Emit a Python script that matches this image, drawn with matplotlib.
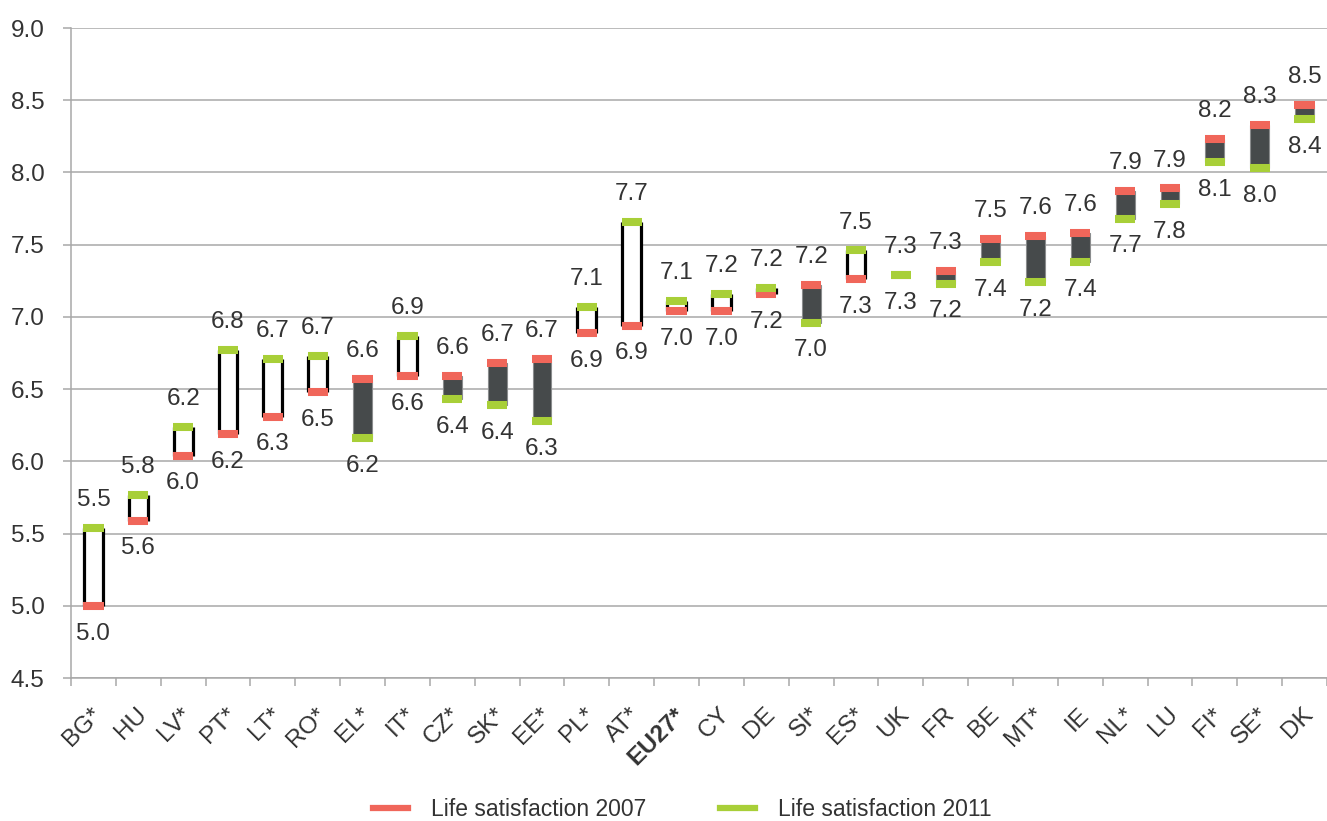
import numpy as np
import matplotlib
matplotlib.use("Agg")
import matplotlib.pyplot as plt
from matplotlib.transforms import ScaledTranslation
from matplotlib.lines import Line2D

countries = ["BG*", "HU", "LV*", "PT*", "LT*", "RO*", "EL*", "IT*", "CZ*", "SK*",
             "EE*", "PL*", "AT*", "EU27*", "CY", "DE", "SI*", "ES*", "UK", "FR",
             "BE", "MT*", "IE", "NL*", "LU", "FI*", "SE*", "DK"]
life2007 = [5.00, 5.59, 6.04, 6.19, 6.31, 6.48, 6.57, 6.59, 6.59, 6.68,
            6.71, 6.89, 6.94, 7.04, 7.04, 7.16, 7.22, 7.26, 7.29, 7.32,
            7.54, 7.56, 7.58, 7.87, 7.89, 8.23, 8.33, 8.47]
life2011 = [5.54, 5.77, 6.24, 6.77, 6.71, 6.73, 6.16, 6.87, 6.43, 6.39,
            6.28, 7.07, 7.66, 7.11, 7.16, 7.20, 6.96, 7.46, 7.29, 7.23,
            7.38, 7.24, 7.38, 7.68, 7.78, 8.07, 8.03, 8.37]
yticks = [4.5, 5.0, 5.5, 6.0, 6.5, 7.0, 7.5, 8.0, 8.5, 9.0]
legend_labels = ["Life satisfaction 2007", "Life satisfaction 2011"]

RED = "#F0665A"
GREEN = "#A8CF38"
DARK = "#464a4b"
GRID = "#a8a8a8"
TXT = "#333333"
FS = 17.5

plt.rcParams['font.family'] = ['Liberation Sans', 'DejaVu Sans']

fig = plt.figure(figsize=(13.27, 8.21), dpi=100)
ax = fig.add_axes([71/1327, 1-678/821, 1-71/1327, (678-28)/821])

n = len(countries)
x = np.arange(n)
a = np.array(life2007)
b = np.array(life2011)
low = np.minimum(a, b)
high = np.maximum(a, b)
bw = 0.42
mw = 0.45

for i in range(n):
    if b[i] > a[i]:
        ax.bar(x[i], high[i]-low[i], bottom=low[i], width=bw, color="white",
               edgecolor="none", zorder=3)
        ax.vlines([x[i]-bw/2, x[i]+bw/2], low[i], high[i], color="black",
                  lw=2.3, zorder=3.5)
    elif b[i] < a[i]:
        ax.bar(x[i], high[i]-low[i], bottom=low[i], width=bw, color=DARK,
               edgecolor="#8a8c8d", lw=0.8, zorder=3)

ax.hlines(a, x-mw/2, x+mw/2, color=RED, lw=5.8, zorder=4, capstyle='butt')
ax.hlines(b, x-mw/2, x+mw/2, color=GREEN, lw=5.8, zorder=5, capstyle='butt')

for i in range(n):
    top_v, bot_v = (b[i], a[i]) if b[i] >= a[i] else (a[i], b[i])
    ax.annotate(f"{top_v:.1f}", (x[i], top_v), xytext=(0, 20), textcoords="offset points",
                ha="center", va="center", fontsize=FS, color=TXT, zorder=6)
    ax.annotate(f"{bot_v:.1f}", (x[i], bot_v), xytext=(0, -20), textcoords="offset points",
                ha="center", va="center", fontsize=FS, color=TXT, zorder=6)

ax.set_xlim(-0.5, n-0.5)
ax.set_ylim(4.5, 9.0)
ax.set_yticks(yticks)
ax.set_yticklabels([f"{v:.1f}" for v in yticks])
ax.grid(axis="y", color=GRID, lw=1.1, zorder=0)
ax.set_axisbelow(True)
for s in ["top", "right"]:
    ax.spines[s].set_visible(False)
for s in ["left", "bottom"]:
    ax.spines[s].set_color(GRID)
    ax.spines[s].set_linewidth(1.1)
ax.tick_params(axis="y", length=6, width=1.1, color=GRID, pad=13, labelsize=FS, labelcolor=TXT)

ax.set_xticks(np.arange(n+1)-0.5)
ax.set_xticklabels([])
ax.tick_params(axis="x", which="major", length=6, width=1.1, color=GRID)
ax.set_xticks(x, minor=True)
ax.set_xticklabels(countries, minor=True, rotation=45, ha="right", va="center",
                   rotation_mode="anchor", fontsize=FS, color=TXT)
ax.tick_params(axis="x", which="minor", length=0, pad=24)
for lab in ax.get_xticklabels(minor=True):
    lab.set_transform(lab.get_transform() + ScaledTranslation(5/100, 0, fig.dpi_scale_trans))
    if lab.get_text() == "EU27*":
        lab.set_fontweight("bold")

handles = [Line2D([], [], color=RED, lw=4.5), Line2D([], [], color=GREEN, lw=4.5)]
fig.legend(handles, legend_labels, loc="center", bbox_to_anchor=(0.514, 0.014), ncol=2,
           frameon=False, fontsize=16.5, handlelength=1.55, handletextpad=1.0,
           columnspacing=3.2, labelcolor=TXT)

fig.savefig("out.png", dpi=100)
